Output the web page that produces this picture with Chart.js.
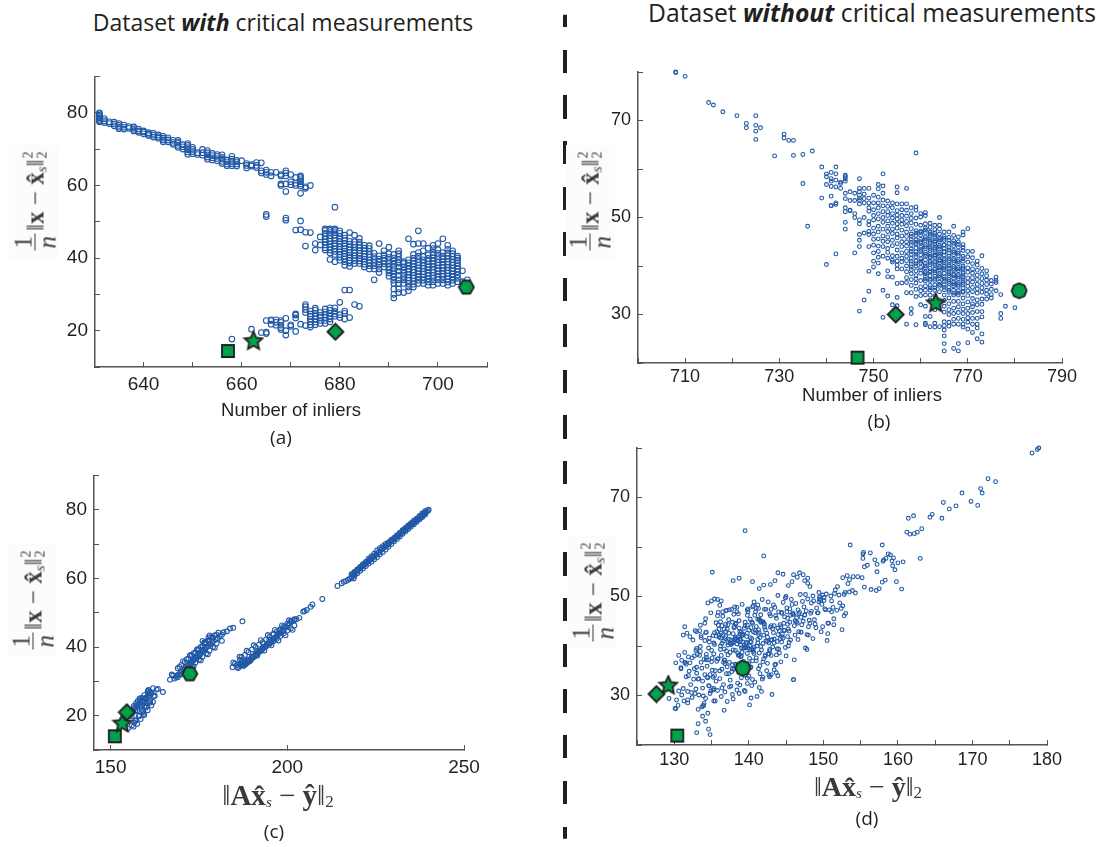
<!DOCTYPE html>
<html>
<head>
<meta charset="utf-8">
<title>Critical measurements</title>
<script src="https://cdn.jsdelivr.net/npm/chart.js@4/dist/chart.umd.min.js"></script>
<style>
  html, body { margin: 0; background: #fff; }
  #page { position: relative; width: 1104px; height: 847px; overflow: hidden; color: #231f20; }
  canvas { position: absolute; }
  .txt { position: absolute; white-space: nowrap; transform: translate(-50%, -50%); }
  .title { font: 23px "Open Sans", sans-serif; }
  .axis { font: 18.5px "Liberation Sans", sans-serif; }
  .cap { font: 19px "Open Sans", sans-serif; }
  .divider { position: absolute; left: 563px; width: 4px; top: 3.8px; height: 835px; clip-path: inset(11px 0 0 0);
    background: repeating-linear-gradient(#231f20 0 23.2px, transparent 23.2px 45.7px); }
  .shade { position: absolute; background: #fcfcfa; width: 49px; height: 113px; }
  .math { font: 25px "Liberation Serif", serif; color: #3a3a3a; display: flex; align-items: center; }
  .ylab { transform: translate(-50%, -50%) rotate(-90deg); }
  .frac { display: inline-flex; flex-direction: column; align-items: center; margin-right: 3px; line-height: 23px; }
  .frac i { border-top: 1px solid #3a3a3a; padding: 0 2px; }
  .stack { display: inline-flex; flex-direction: column; font-size: 14px; line-height: 14px; margin-left: 1px; }
  sub.s { font-size: 15px; font-style: italic; line-height: 0; position: relative; top: 6px; vertical-align: baseline; }
  sub.n { font-size: 17px; line-height: 0; position: relative; top: 6px; vertical-align: baseline; }
</style>
</head>
<body>
<div id="page">
  <div class="divider"></div>
  <div class="txt title" style="left:283px;top:22px">Dataset <b><i>with</i></b> critical measurements</div>
  <div class="txt title" style="left:872px;top:12px;font-size:24.7px">Dataset <b><i>without</i></b> critical measurements</div>

  <div class="shade" style="left:9px;top:145px"></div>
  <div class="shade" style="left:566px;top:145px"></div>
  <div class="shade" style="left:8px;top:543px"></div>
  <div class="shade" style="left:568px;top:535px"></div>

  <canvas id="chartA" style="left:0;top:53px" width="520" height="357"></canvas>
  <canvas id="chartB" style="left:580px;top:49px" width="524" height="341"></canvas>
  <canvas id="chartC" style="left:0;top:452px" width="520" height="328"></canvas>
  <canvas id="chartD" style="left:580px;top:425px" width="524" height="350"></canvas>

  <div class="txt math ylab" style="left:35px;top:201px"><span class="frac"><span>1</span><i>n</i></span>‖<b>x</b>&nbsp;−&nbsp;<b>x̂</b><sub class="s">s</sub>‖<span class="stack"><span>2</span><span>2</span></span></div>
  <div class="txt math ylab" style="left:590px;top:201px"><span class="frac"><span>1</span><i>n</i></span>‖<b>x</b>&nbsp;−&nbsp;<b>x̂</b><sub class="s">s</sub>‖<span class="stack"><span>2</span><span>2</span></span></div>
  <div class="txt math ylab" style="left:33px;top:600px"><span class="frac"><span>1</span><i>n</i></span>‖<b>x</b>&nbsp;−&nbsp;<b>x̂</b><sub class="s">s</sub>‖<span class="stack"><span>2</span><span>2</span></span></div>
  <div class="txt math ylab" style="left:593px;top:592px"><span class="frac"><span>1</span><i>n</i></span>‖<b>x</b>&nbsp;−&nbsp;<b>x̂</b><sub class="s">s</sub>‖<span class="stack"><span>2</span><span>2</span></span></div>

  <div class="txt axis" style="left:291px;top:410px">Number of inliers</div>
  <div class="txt axis" style="left:872px;top:395px">Number of inliers</div>
  <div class="txt math" style="left:278px;top:795px;font-size:29px">‖<b>Ax̂</b><sub class="s">s</sub>&nbsp;−&nbsp;<b>ŷ</b>‖<sub class="n">2</sub></div>
  <div class="txt math" style="left:868px;top:787px;font-size:28px">‖<b>Ax̂</b><sub class="s">s</sub>&nbsp;−&nbsp;<b>ŷ</b>‖<sub class="n">2</sub></div>

  <div class="txt cap" style="left:281px;top:437px">(a)</div>
  <div class="txt cap" style="left:879px;top:421px">(b)</div>
  <div class="txt cap" style="left:274px;top:831px">(c)</div>
  <div class="txt cap" style="left:867px;top:818px">(d)</div>
</div>

<script>
// panel (a): number of inliers vs error, one row of errors per inlier count
const inliersA = [631,632,633,634,635,636,637,638,639,640,641,642,643,644,645,646,647,648,649,650,
  651,652,653,654,655,656,657,658,659,660,661,662,663,664,665,666,667,668,669,670,
  671,672,673,674,675,676,677,678,679,680,681,682,683,684,685,686,687,688,689,690,
  691,692,693,694,695,696,697,698,699,700,701,702,703,704,705,706];
const errorA = [
  [77.5,77.8,78.2,78.6,79,79.3,79.7,80],[77.3,77.8,78.4],[77,77.5],[76.4,76.9,77.4],[75.6,76,76.5,77],
  [75.5,76,76.6],[75.7,76.2],[75,75.4,75.9,76.1],[74.6,75,75.5],[74.2,74.7,75],
  [73.7,74.1,74.5],[73.3,73.8,74.3],[73,73.4,73.9],[72,72.5,73,73.5],[72,72.5,73.1],
  [71.3,71.8,72.4],[70.5,71,71.6,72,72.4],[70,70.6,71.2],[68.6,69.2,69.8,70.4,71,71.5],[68.7,69.3,69.9,70.5],
  [68.5,69],[68.3,69,69.9],[67.2,67.8,68.4,69,69.6],[67,67.6,68.2,68.8],[66.8,67.4,68,68.5],
  [66,66.6,67.2,67.7,68.4],[65.4,65.9,66.5,67],[65.4,66,66.6,67.2,68,17.7],[65.3,65.9,66.5,66.9],[66.8],
  [64.8,65.5,66],[65.3,65.7,20.4],[64.9,65.5,66.3],[63.4,64,66.2,19.5],[63,63.6,64.2,51.4,52,19.2,19.6,22.8],
  [62.6,63.6,21.8,22.8,23],[63.6,21.5,22.3,23],[60,60.4,62.6,63,20.3,20.8,21.5,22.3,22.8],[58.3,60.4,62.6,63.4,64,50.4,51,18.8,20,23.4],[60.2,61,63,21.2,21.6],
  [60,60.6,62.2,47.7,19.8,23.5,24.3,24.6],[57.8,59.8,60.4,61,61.6,62.2,62.6,50.2,47.8,21.8],[59.2,59.6,47.1,43.3,21.4,25,25.8,26.6,27.2],[60,47,21,21.6,22.4,23.2,24,24.6,25.4],[42.2,44,21.6,22.4,23.2,24,24.8,25.6,26.2],
  [43.6,45.8,22,22.8,23.6,24.2,25],
  [42.2,42.8,43.6,44.4,45.2,46,46.8,47.6,48,22,22.8,23.6,24.4,25.2,26],
  [39.6,41.4,42.2,43,43.8,44.6,45.4,46.2,47,47.6,48,22.4,23.2,24,24.8,25.6,26.3],
  [39,41,41.8,42.5,43.3,44,44.8,45.5,46.3,47,47.6,48,54,24,24.6,25.3,26.3],
  [39.4,40.2,41,41.7,42.4,43.1,43.9,44.6,45.3,46,46.8,47.5,23.6,24.4,27.8],
  [38,39,39.8,40.5,41.2,41.9,42.6,43.3,44,44.8,45.5,46.3,23.2,24.8,25.4,31.2],
  [37.7,38.6,39.4,40.1,40.8,41.5,42.2,43,43.8,44.6,47,23.6,31.2],
  [38.5,39.3,40,40.7,41.4,42.1,42.9,43.7,44.5,46.3,27.2],
  [38.5,39.2,39.9,40.6,41.3,42,42.8,43.6,44.4,45.4,26.7],
  [37.5,38.3,39,39.7,40.4,41.1,41.9,42.7,43.5],
  [37,37.9,38.7,39.4,40.2,41,41.8,42.6,43.4],
  [37,37.9,38.8,39.6,40.4,41.3,34],
  [36,37,38,38.9,39.7,40.6,44],
  [37.5,38.4,39.2,40,40.9,42],
  [35,35.9,36.8,37.6,38.5,39.3,40.2,41.2,43],
  [29,30,31.5,33,33.9,34.8,35.6,36.5,37.4,38.3,39.2,40,41],
  [30.5,31.5,33,34,35.2,36.4,37.5,38.6,39.5,40.4,41.2,42],
  [30.5,33,34,34.9,35.8,36.7,37.6,38.5,39],
  [31,32,33,33.8,34.6,35.4,36.2,37,37.9,38.7,39.5,45.3],
  [32,32.8,33.6,34.4,35.2,36,36.8,37.6,38.4,39.2,40,41,43.8],
  [33,33.9,34.8,35.6,36.4,37.2,38,38.8,39.6,40.5,41.5,44,47.5],
  [33,33.9,34.7,35.5,36.3,37.1,37.9,38.7,39.5,40.4,42,44],
  [32.5,33.4,34.3,35.1,35.9,36.7,37.5,38.3,39.1,39.9,40.8,42.7],
  [32.5,33.5,34.4,35.2,36,36.8,37.6,38.4,39.2,40,40.8,41.6,42.6,43.5],
  [33,34,34.8,35.6,36.4,37.2,38,38.8,39.6,40.4,41.3,42.3,44],
  [33,34,34.9,35.7,36.5,37.3,38.1,38.9,39.7,40.5,41.5,45.3],
  [32.5,33.4,34.2,35,35.8,36.6,37.4,38.2,39,39.8,40.6,41.4,42.4,43.5],
  [33,33.9,34.8,35.6,36.4,37.2,38,38.8,39.6,40.4,41.2,42],
  [33.5,34.4,35.3,36.2,37,37.8,38.6,39.4,40,40.5],
  [33.5,36.5],[34]
];
const markerXA = [657.2,662.4,679.1,705.8];
const markerYA = [14.4,17.1,19.7,32];
const xTicksA = [640,650,660,670,680,690,700,710];
const xLabelsA = [640,660,680,700];
const yTicksA = [10,20,30,40,50,60,70,80,90];
const yLabelsA = [20,40,60,80];

// panel (b): same measure for the dataset without critical measurements
const inliersB = [708,710,715,716,718,721,723,725,726,729,731,732,733,735,736,737,739,740,741,742,
  743,744,745,746,747,748,749,750,751,752,753,754,755,756,757,758,759,760,761,762,
  763,764,765,766,767,768,769,770,771,772,773,774,775,776,777,778,780,
  758,759,760,761,762,763,764,765,766,767,768,769];
const errorB = [
  [79.9,80],[79.1],[73.7],[73.2],[71.8],[71],[69.4,68.5],[71,69,67.8,66.1],[68.5],[62.7],
  [67.2,66.4],[65.9],[65.9,62.8],[63,57],[48.2],[63.7],[60.4,54],[59,58.4,56.8,40.3],[59.3,58,57.5,56.4,54.4,52.5,52.4],[60.4,59,57.7,56.3,53,52.7,42.5],
  [57.3,57,56],[58.7,58.4,58,57.5,55,53.9,52,51.2,49,47.6],[55.3,53.5,51.5,51.4],[55,53.5,50.8,50,42.7],[58,56,55.3,54.6,54,53.5,52.8,49.5,48.7,46.5,45.3,44,30.7],[56,54.8,53.9,53,50,46.8,33],[56,54,53,52,51.3,49.2,48.5,47.1,46.5,44,38.9,34.8],
  [54.6,53,51.6,50.4,49.5,47.8,46.6,45.5,44.3,42.7,41,39.8],
  [56.8,55.9,54.2,53,52,50.8,49.7,48.2,47,45.6,44.1,43,41.8,40.6,38.4],
  [59,56.5,55,53.6,52.4,51.2,50,49,47.6,46.2,45.1,44,42,35,29.4],
  [53.4,52.3,51.2,50.4,49.3,48.2,47.1,46,45,43.6,42.8,41.6,39,37.8,33.8],
  [53,52,50.8,49.9,48.8,47.6,46.7,45.3,44.2,42.1,41.2,40.8,37.7,32],
  [56.3,55.1,52.8,51.4,50.5,49.7,48.7,47.8,46.6,45.8,44.6,43.3,42,41,40.2,39.4,36.4,33.5,31.8],
  [52.8,51.6,50.4,49.5,48.6,47.4,46.2,45,44,42.7,41.6,40.9,39.4,36.5],
  [56,52.8,51.5,50.3,49.2,48.3,47,46.1,45,44.1,43,42,41.1,40,38.8,37.6,36.6,34.5,28],
  [52,50.8,49.8,48.9,47.7,46.6,45.5,44.4,43.5,42.4,41.6,40.4,39.3,38.4,37.2,36,34.5,31.2,30.2],
  [63.3,52.2,51.5,49.9,48.6,47.3,46.3,45.4,44.5,43.7,42.9,41.9,41,40,39,38,36.5,35.2,33.7,27.9],
  [50.8,50.1,48.4,47.2,46.4,45.5,44.7,43.9,43,42.3,41.5,40.6,39.7,38.5,35.7,34.9,33.9,32],
  [51,50.4,48.7,47.8,46.9,46,45.2,44.4,43.6,42.8,42,41.3,40.5,39.6,38.8,37.9,36.9,35.9,35,34,31.7,29.6,28.2,27.9],
  [48.8,48,47,46.2,45.5,44.7,44,43.2,42.4,41.7,41,40.3,39.5,38.7,38,37,36,35,34,33,29.6,27.5],
  [48.4,47.5,46.8,46,45.2,44.5,43.8,43,42.3,41.6,40.9,40.1,39.4,38.6,37.9,37,36.1,35,33.8,32.5,31,28.2,27.4],
  [50,48.4,47.6,46.6,45.8,45,44.2,43.5,42.8,42,41.3,40.6,39.9,39.2,38.4,37.6,36.7,35.8,34.7,33,27.5],
  [47,46.1,45.3,44.4,43.6,42.9,42.2,41.5,40.7,40,39.2,38.5,37.7,36.9,36.1,35.1,34,32.9,31.7,30.5,28.5,27.7,26.8,25.6,24,22.5],
  [47,45.9,44.7,43.8,42.7,42,41.1,40.3,39.5,38.8,38,37.2,36.4,35.6,34.6,33.4,32.2,31,30,28.4,27.6],
  [48.2,46.3,45.2,44.2,43.2,42.3,41.5,40.7,39.9,39.1,38.3,37.5,36.7,35.9,35,34,32.7,31.3,30.2,29,28,23],
  [46,45,43.9,43,42.1,41.3,40.5,39.7,39,38.2,37.4,36.6,35.8,34.9,34,32.7,31.6,30.4,29.2,28,24,22.5],
  [47,46.4,44.4,43.2,42,41,40,39.3,38.5,37.7,37,36.2,35.4,34.6,33.4,32.2,31.1,30.2,29,28,27.4],
  [47.7,43,41.9,40.8,39.6,38.7,37.5,36.6,35.8,34.9,33.9,32.6,31.3,30.2,29.3,28.4,27,24.2],
  [43,41.7,40.5,39.4,38.5,37.6,36.7,35.6,34.7,33.3,32.2,31.6,30.4,29.2,28,26.3],
  [41,40.2,39.1,38.1,37.2,36.2,35.3,34.4,33,32,30.6,29.2,28,27.2,25],
  [42.1,39.5,38.4,37.4,36.4,35.5,34.6,33.2,32.1,30.6,29.5,26,24.3],
  [39,38,37.1,36.2,35,34.2,33.2],
  [37,36.3,35.2,34.1,33.4],
  [37.7,37,36.6,34.9],[34.1,30.2,29.2],[31.7],[31.4],
  [46.1,44.9,43,41,39.8],[46.8,44.9,42.4,40.5,37.4],[46.9,45,43.4,41,39.2,37],[47.4,45.6,44,42.4,40,38.4,37.3],
  [46.6,45.1,43.6,42,40.7,39,37.3,35.5],[46.4,44.9,43.4,42,40.5,39,37.4,35.5],[45.4,43.9,42.4,41,39.6,38,36.2],[45.7,44.3,43,41.1,39.6,37.3,35.6],
  [45.3,43.3,41.5,40,38.4,36.8,35],[44.7,42.8,41.1,39.5,38,36.3,34.4],[44.5,42.6,40.9,39.4,37.8,36.2,34.4],[43.8,41.5,39.6,38.1,36.6,34.8]
];
const markerXB = [746.6,763.2,754.7,780.9];
const markerYB = [21.1,32.3,30,34.9];
const xTicksB = [700,710,720,730,740,750,760,770,780,790];
const xLabelsB = [710,730,750,770,790];
const yTicksB = [20,30,40,50,60,70,80];
const yLabelsB = [30,50,70];

// panel (c): residual norm vs error
const residualC = [
  240,239.8,239.5,239.2,238.9,238.6,238.2,237.9,237.5,237.2,
  236.8,236.5,236.1,235.8,235.4,235,234.7,234.3,234,233.6,
  233.2,232.9,232.5,232.1,231.8,231.4,231,230.6,230.3,229.9,
  229.5,229.1,228.8,228.4,228,227.6,227.2,226.8,226.4,226,
  225.6,225.2,224.8,224.4,224,223.6,223.1,222.7,222.3,221.9,
  221.4,221,220.6,220.1,219.7,219.3,218.9,218.5,218.8,218.2,
  217.7,217.2,216.6,216,215.4,214.2,209.9,207.1,206.6,205.5,
  204.5,204.9,203.4,202.6,201.9,201.2,200.6,200.2,199.7,199.3,
  199,198.5,198.1,197.7,197.3,197,196.6,196.3,195.9,195.5,
  195.1,194.7,194.3,194,193.6,193.2,192.8,192.5,192.1,191.7,
  191.3,191,190.6,190.2,189.9,189.5,189.2,188.8,188.4,188.1,
  187.7,187.3,187,186.5,186.1,185.6,185.2,184.7,184.5,197.8,
  196.1,194.9,193.3,191.6,190.1,188.7,187.4,186.6,185.9,187.3,
  184.7,183.8,187.3,182.9,182,181.5,180.9,180.3,179.7,179.2,
  178.8,178.3,178,177.6,177.2,176.9,176.5,176.2,175.8,175.4,
  175.1,174.7,174.4,174,173.7,173.3,173,172.6,172.2,171.8,
  171.4,171,170.6,170.1,169.7,169.3,168.9,168.5,168.1,167.7,
  167.3,166.8,175.9,175.2,174.6,173.5,172.6,177.7,176.6,179.4,
  164.8,163.4,162,160.7,161.6,160.9,160.2,159.6,159,158.5,
  158,157.5,157,156.5,156,155.5,155,160.3,159.6,159.3,
  158.8,158.2,157.7,157.2,156.6,156.1,155.6,154.9,161.2,160.6
];
const errorC = [
  80,79.8,79.5,79.3,79,78.7,78.4,78.1,77.8,77.5,
  77.2,76.9,76.6,76.3,76,75.7,75.4,75.1,74.8,74.5,
  74.1,73.8,73.5,73.2,72.9,72.5,72.2,71.9,71.6,71.2,
  70.9,70.6,70.2,69.9,69.5,69.2,68.9,68.7,68.3,67.7,
  67.4,67,66.7,66.3,66,65.6,65.2,64.9,64.5,64.1,
  63.7,63.4,63,62.6,62.2,61.8,61.5,61,60,60.5,
  59.9,59.6,59.2,59,58.6,57.8,54,52.4,51.7,50.8,
  50.3,50.5,48.5,48.1,47.8,47.4,46.9,46.3,45.8,45.7,
  44.9,44.6,44.2,43.9,43.6,43.1,42.8,42.4,42.2,41.7,
  41.4,41,40.7,40.3,40,39.7,39.3,38.9,38.6,38.3,
  37.9,37.5,37.2,36.9,36.5,36.2,35.8,35.6,35.2,34.9,
  34.6,35.1,35.5,35,33.9,34.6,35.2,35.5,34.1,44.8,
  43.7,42.1,41,39,37.2,36.2,35,36.3,34.2,36.1,
  45.6,45.4,47.5,44.6,44.3,43.6,43.2,42.6,42.2,41.8,
  41.5,41,40.7,40.3,40,39.6,39.3,38.9,38.6,38.2,
  37.9,37.5,37.2,36.8,36.5,36.1,35.7,35.4,35,34.6,
  34.2,33.8,33.3,32.9,32.4,32,31.8,31.3,30.8,31.7,
  32,30.5,39.2,37.5,37,36.2,35,42.8,41.3,43.4,
  26.9,27.8,28,27.5,26.5,25.9,25.3,25,24.4,23.9,
  23.4,22.9,22.4,22,21.3,20.7,20.2,23.6,22.6,20.5,
  25.2,25,24.3,23.6,22.8,21.4,20.1,16.3,26.9,27.2
];
// extra rings that thicken the bands of panel (c)
const residualCBand = [
  239,238.2,237.4,236.6,235.8,235,234.2,233.4,232.6,231.8,
  231,230.2,229.4,228.6,227.8,227,226.2,225.4,224.6,223.8,
  223,222.2,221.4,220.6,219.8,219,218.2,239,238.2,237.4,
  236.6,235.8,235,234.2,233.4,232.6,231.8,231,230.2,229.4,
  228.6,227.8,227,226.2,225.4,224.6,223.8,223,222.2,221.4,
  220.6,219.8,219,218.2,187,188,189,190,191,192,
  193,194,195,196,197,198,199,200,201,202,
  187,188,189,190,191,192,193,194,195,196,
  197,198,199,200,201,202,169,170,171,172,
  173,174,175,176,177,178,179,180,169,170,
  171,172,173,174,175,176,177,178,179,180,
  171.5,172.5,173.5,174.5,175.5,176.5,177.5,156,157,158,
  159,160,161,156,157,158,159,160,161,157.5,
  158.5,159.5,160.5,157.2,158.2,159.2,160.2,161.2,162.2,156.7,
  186.5,188.5,190.5,192.5,194.5,196.5,198.5,200.5,187.5,189.5,
  191.5,193.5,195.5,197.5,199.5,201.5,170.5,172.5,174.5,176.5,
  178.5,180.5,171.5,173.5,175.5,177.5,179.5,181.5,169.5,176,
  178,156.5,157.5,158.5,159.5,160.5,162.5,161.5,160.5,159.5,
  158.5,157.5,156.5,163,162
];
const errorCBand = [
  79.6,78.9,78.2,77.4,76.8,76.1,75.4,74.7,74,73.2,
  72.5,71.8,71.2,70.5,70,69.4,68.8,68.1,67.2,66.4,
  65.7,64.8,64.1,63.3,62.6,61.9,61.2,78.6,77.9,77.2,
  76.5,75.8,75.1,74.4,73.7,73,72.2,71.5,70.8,70,
  69.2,68.4,67.7,67,66.2,65.6,64.9,64.3,63.6,62.9,
  62.2,61.5,60.8,60.1,37.1,37.7,38.5,39.3,40,40.7,
  41.4,42.2,43,43.8,44.5,45.2,46,46.8,47.5,48.1,
  35,35.7,36.3,37.2,37.9,38.7,39.5,40.2,40.9,41.6,
  42.4,43.2,44,44.8,45.5,46.3,33.8,34.8,35.6,36.7,
  37.6,38.5,39.4,40.3,41.2,42,42.8,43.6,31.2,32,
  32.9,33.7,34.5,35.5,36.3,37.2,38.1,39,40,41,
  36.4,37.5,38.2,39.1,40,41,41.9,19.8,21.2,22.6,
  23.9,25.2,26.6,17.2,18.5,19.8,21,22.4,23.7,21.6,
  23,24.2,25.6,18.7,20,21.4,22.8,24.2,25.6,18,
  37.2,38.9,40.5,42,43.5,45,46.3,47.8,34.5,36,
  37.5,39,40.5,41.9,43.4,45,35.9,37.6,39.4,41.3,
  42.9,44.2,32.8,34.4,36.1,37.9,39.8,41.8,34.2,41.8,
  43.4,21.5,23,24.6,26,27,25.8,23,21.6,20.2,
  19,17.6,16.8,27.6,24
];
const markerXC = [151.2,153.3,154.6,172.4];
const markerYC = [14,17.7,21,32.2];
const xTicksC = [150,200,250];
const xLabelsC = [150,200,250];
const yTicksC = [10,20,30,40,50,60,70,80,90];
const yLabelsC = [20,40,60,80];

// panel (d): residual norm vs error without critical measurements
const residualD = [
  178,178.7,178.9,172.1,173.1,171.1,171.3,168.6,169.8,170.7,
  167.8,166.1,166.9,164.6,164.3,165.9,162.1,161.4,161.2,161.6,
  162.2,162.6,163.2,163,139.5,153.6,157.9,142,135.1,155.3,
  155.4,155.3,156.3,156.9,155.9,155.5,157.2,158,158.1,158.4,
  158.7,159,159.4,159.2,160,160.7,159.3,159.6,157.2,157.9,
  158.3,159.8,160.5,157.5,157.1,156.4,155.5,155.2,154.6,154,
  153.2,153.5,152.6,153.3,153.9,154.3,152.8,152.1,151.5,151,
  150.4,150.1,149.5,149.9,149.4,148.7,148.2,147.9,147.5,146.5,
  146.8,147.3,147.9,146,145.8,145.3,144.6,143.9,143.5,142.9,
  142,141.4,140.5,138.7,137.9,135.4,135.8,136.3,135,134.5,
  152.5,150.5,150.6,149.7,148.6,148,147.6,146.1,146,143.7,
  143,145.3,144.2,144.8,141.9,142.7,141,141.5,140.3,139.8,
  151.3,151.8,152.6,153,151.1,150.2,149.3,148.4,147.5,146.7,
  145.9,145.1,144.4,143.6,142.8,142.1,141.3,140.5,139.8,139.1,
  138.4,137.7,137,136.5,135.8,134.9,134.2,133.5,132.8,131.4,
  131.2,131.7,133,132.1,132.5,133.6,134.3,135.2,136,136.9,
  137.8,138.7,139.5,140.4,141.2,142,143,143.9,144.7,145.5,
  146.4,147.3,148.2,149,149.9,150.7,151.4,148.8,147,145.2,
  143.4,141.6,139.9,138.2,136.4,134.7,133,131.4,130.6,130.2,
  131,131.9,132.7,133.5,134.3,135,135.9,136.7,137.4,138.2,
  139,139.8,140.6,141.4,142.2,143,143.8,144.6,145.4,146.2,
  147,147.8,146.6,145.6,144.4,143.3,142.3,141.3,140.2,139.2,
  138.2,137.2,136.2,135.3,134.3,133.4,132.4,131.6,130.9,132,
  133,134.1,135.1,136.1,137.1,138,139,140,141,142,
  143,144,145,143.5,142.5,141.5,140.5,139.5,138.5,137.5,
  136.6,135.6,134.6,133.8,132.9,131.8,133.3,134.4,135.4,136.4,
  137.4,138.4,139.4,140.4,141.4,142.4,143.4,144.3,142.8,141.8,
  140.8,139.8,138.8,137.8,136.8,135.8,134.8,133.9,134.7,135.5,
  136.3,137.1,137.9,138.7,139.5,140.3,141.1,141.9,142.7,141.7,
  140.7,139.7,138.9,137.9,137,136.2,135.4,136,136.8,137.6,
  138.3,139.1,139.8,140.6,141.3,142.1,140.9,140.1,139.3,138.5,
  137.7,136.9,136.5,137.3,138.1,138.9,139.6,140.4,141.2,139,
  138.2,137.5,138.6,139.4,140.2,140,138.8,138,137.2,139.2,
  134,133.7,134.2,133.2,133,134.6,134.8,133.9,135.3,136.7,
  129.3,130.2,130.5,130.1,131.3,131,130.6,130.3,129.6,131.8,
  133.8,133.2,134.5,146,140.1,143.1,143.9,151.4,152.4,152.8
];
const errorD = [
  79,79.7,80,73.8,73.2,71.8,70.9,70.9,69.2,68.4,
  68.3,69,67.7,66.6,66,65.8,66.3,65.8,63,62.6,
  62.7,63,63.7,57.7,63.3,60.4,60.4,58.2,54.9,58.6,
  58.9,57.7,58.8,57.4,56.3,56,56.5,57.1,57.4,57.7,
  58.6,58.4,57.8,57.2,56.8,57,56.2,55.4,55,52.9,
  53.3,53,51.5,51.6,51.2,51.4,51.9,53.8,54,54,
  54.2,53.4,53.8,52.6,51.2,50.7,50.4,50.3,50.6,50.1,
  50.5,49.2,49.5,50.3,48.9,49.1,52,52.7,53.2,53.9,
  54.8,54.4,53.7,54.4,53,52.2,54.5,54.8,53.2,52.4,
  52.3,51.6,53,53.7,53.2,49.5,49.4,49.1,49.1,48.7,
  43.3,41.1,42.5,42.9,41.5,42.2,39.6,37.2,33.2,34.6,
  34.2,40,41.5,43.1,36.8,38.4,37.6,36,35.7,33.5,
  47.8,47.2,48.1,46.6,46.9,47.5,46.7,47,46.3,46.5,
  46.4,46.9,46.8,46.1,46.5,47.4,47.6,47.9,47.3,48.4,
  47.8,47.4,47.2,46.9,46.1,46.7,45.5,44.2,43.1,43.9,
  42.2,42.6,42.9,41.9,41.2,41.7,42.8,42.1,43.4,44.4,
  44.8,43.6,44.1,44.8,45.4,44.6,44.1,43.6,44.6,44.8,
  45.7,45,44.6,43.7,43.9,44.6,44.3,45.3,42.8,41.9,
  40.7,39.9,39.6,39.1,40.5,40.8,39.5,38.7,38.1,36.6,
  37.1,37.8,38,38.9,37.7,36.8,37.4,37.2,36.7,36.3,
  38,38.5,38.9,38.6,38.2,38.1,40.9,41.6,40.7,42.2,
  42.8,39.3,41.3,41.2,41.9,42.7,41,42.3,41.7,42.2,
  41.8,40.2,39.3,38.4,38.3,38.1,37.6,36.3,35.4,34.9,
  34.5,34.2,35.1,35,35.8,35.3,36.7,36.4,37,37.4,
  41.2,39.4,38,36.2,36.5,34.4,33.2,34.1,32.5,33.1,
  32.2,32.9,32,31.5,31.3,30.8,33.4,33.7,34,31.5,
  31.7,31.1,31,32,31.6,35,35.2,36.8,33.8,33.3,
  32.7,32.4,32.1,30.2,30.7,31,30.4,29.9,31.9,28.9,
  29.8,28.8,29.3,30.4,30.8,29.5,29.8,33.7,34.1,30.8,
  39.8,40.7,40.2,40.6,39,40,40.3,41.8,41.5,41.1,
  41.5,42.1,42.6,42.9,43.3,43.8,43.2,40,39.5,41.2,
  40.5,41.9,42.3,42.6,41.4,41.1,39.7,39.2,40.6,42.8,
  41.4,40.6,41.9,39.7,40.9,43.2,42.4,43.7,44.3,40.8,
  28.4,27.7,24.8,24.3,22.5,23.2,22.1,28,28.9,27,
  29.4,27.3,28,27.4,28.9,30.1,30.9,29.1,31.8,28.5,
  25.8,27.2,26.4,33.2,28.1,30.2,34,45.5,47.6,46.1
];
// second reading of the crowded middle of panel (d)
const residualD2 = [
  138.3,141.7,136.9,143.2,139.6,145.1,137.4,140.8,142.5,135.7,
  133.4,147.2,139.1,144.4,136.2,141.2,148.3,134.6,142.9,138.8,
  146.1,135.2,140.3,137.8,143.9,132.7,149.4,139.9,136.6,144.8,
  141.5,134.1,147.8,138.1,142.2,135.9,145.7,131.9,140.6,150.3,
  137.1,143.4,139.4,133.1,146.6,141.9,136.4,148.9,134.9,142.6,
  138.6,144.1,135.4,140.1,151.1,137.6,132.3,143.7,139.8,145.4,
  136.7,141.4,147.5,133.8,138.4,149.8,142.1,135.1,140.9,144.6,
  137.3,131.2,146.9,139.2,143.1,134.4,141.1,152.2,136.1,138.9,
  145.9,132.9,140.4,148.1,137.9,142.8,135.6,144.3,139.3,133.6,
  150.6,141.6,136.8,146.3,138.2,143.6,134.2,140.7,147.1,137.2,
  132.1,142.3,139.7,145.2,135.3,149.1,141.3,136.3,144.9,138.7,
  133.2,140.2,146.7,137.7,143.3,131.6,139,148.6,135.8,142.4,
  144.2,136.5,141.8,134.7,138.5,151.6,140.5,133.9,145.6,137.5,
  143.8,139.5,147.4,135.5,141,132.4,146.2,138,142.7,136,
  149.2,134.3,140,144.7,137,143,131.4,139.3,152.9,135,
  141.5,147.9,133.3,138.6,145,136.9,142,150.1,134.8,140.6,
  137.4,144,132.6,139.8,146.5,135.2,143.5,141.2,148.4,136.4,
  138.1,130.9,142.5,134,145.3,140.3,137.8,147,133,139.1,
  144.5,136.6,141.7,149.6,135.6,138.4,143.2,131.8,140.8,146,
  137.2,142.2,134.5,139.6,148,136.2,144.1,141,133.5,145.8,
  138.8,150.8,135.9,140.1,143.9,132.2,137.6,147.7,139.4,142.8,
  134.1,146.4,136.8,141.4,138.3,144.9,131.5,140.5,135.3,143.4,
  153.5,137.3,149.5,133.7,139.9,142.6,145.5,136.3,141.9,134.6,
  147.6,138.7,143.7,132.8,140.2,136.1,144.4,139,151.9,135.7,
  141.6,146.8,133.6,137.9,142.9,138.5,145.2,134.2,140.7,136.7
];
const errorD2 = [
  44.6,39.2,47.1,43.5,36.4,47.7,41.3,46.2,41.8,36.9,
  43.1,49,38.7,40.8,44.9,48.3,46.6,39.6,46.1,42.9,
  44.1,33.7,43.7,36.2,50.2,35.4,50.8,46.9,41,45.9,
  41.7,44.6,42.3,47.9,37.9,46.8,49.4,34,39.4,47.3,
  43.4,41.4,40.2,38.3,47.3,44.9,35.3,44.4,30.9,48.9,
  46.5,38.6,42.7,37.5,49.1,31.9,30.6,45.6,44.2,43,
  39.4,42.7,46.2,32.9,40.4,48.4,44.4,37.6,46.9,48.8,
  45.3,31.4,50.4,42.4,41.2,35.9,40,48.7,33.4,37.8,
  46.7,39.1,41.5,45.2,42.5,39,44.7,43.9,36.9,42.1,
  44.6,46.3,37.1,48.6,44.4,36.3,29.4,38.5,44.3,40.7,
  36.6,47.4,41.9,45.6,40.6,47.7,35.4,42.6,39.7,38.2,
  33.3,45.4,42.9,34.8,48.3,33.8,39.6,50.1,37.4,42.6,
  44.3,46,49.4,41.6,41,51.3,37,27.9,46.2,38.7,
  39.4,44.8,47.9,35,43.9,29.6,45.1,46.4,40.6,42.2,
  46.7,37.2,33.9,43.2,34.4,47.4,36.6,36.1,50.8,39.1,
  45.2,49.5,30.1,38.1,50,42.9,42.2,49.8,34.2,48.1,
  47.3,46.9,33.3,46.2,44.6,31.1,47.8,41.3,48.7,44.1,
  43.9,35.6,40.9,37.3,43.4,40.8,35.4,45.8,35.7,35.2,
  42.4,36.7,44.9,49.2,42,46.9,39.8,29.1,42.7,46.4,
  38.2,43.3,33.6,40.5,43.9,41.6,43.1,47.7,39.9,48.4,
  41.4,47.3,44.2,39.3,42.3,32.2,40.3,47.1,43.6,39.3,
  41.1,44.9,36.4,45.4,36,49.7,36.7,44.6,31.4,44.1,
  50.9,34.4,49.9,35.5,47.5,38.4,47.5,38.1,40.5,37.2,
  50.4,45.1,38.2,30.4,35.6,48.2,46.6,33.6,52,42.9,
  44.8,46.8,36.7,39.2,43.8,38.6,44.4,42.7,48.9,43.4
];
const markerXD = [130.4,129.2,127.6,139.2];
const markerYD = [21.9,32,30.3,35.5];
const xTicksD = [125,130,135,140,145,150,155,160,165,170,175,180];
const xLabelsD = [130,140,150,160,170,180];
const yTicksD = [20,30,40,50,60,70,80];
const yLabelsD = [30,50,70];

const BLUE = '#2259a6';
const GREEN = '#00a14b';
const DARK = '#231f20';
const AXIS = '#555555';

// green markers are drawn on small canvases, chart.js takes them as pointStyle
function polygon(sides, size, turn) {
  const c = document.createElement('canvas');
  c.width = c.height = size;
  const g = c.getContext('2d');
  const r = size / 2 - 1.5;
  g.beginPath();
  for (let i = 0; i < sides; i++) {
    const a = turn + i * 2 * Math.PI / sides;
    g.lineTo(size / 2 + r * Math.cos(a), size / 2 + r * Math.sin(a));
  }
  g.closePath();
  g.fillStyle = GREEN;
  g.fill();
  g.lineWidth = 1.8;
  g.strokeStyle = DARK;
  g.stroke();
  return c;
}

function star(size) {
  const c = document.createElement('canvas');
  c.width = c.height = size;
  const g = c.getContext('2d');
  const r = size / 2 - 1.5;
  g.beginPath();
  for (let i = 0; i < 10; i++) {
    const a = -Math.PI / 2 + i * Math.PI / 5;
    const d = i % 2 ? r * 0.48 : r;
    g.lineTo(size / 2 + d * Math.cos(a), size / 2 + d * Math.sin(a));
  }
  g.closePath();
  g.fillStyle = GREEN;
  g.fill();
  g.lineWidth = 1.8;
  g.strokeStyle = DARK;
  g.stroke();
  return c;
}

function markerStyles(hexSides) {
  return [
    polygon(4, 20, Math.PI / 4),
    star(22),
    polygon(4, 19, 0),
    polygon(hexSides, 18, 0),
  ];
}

function makePanel(id, cfg) {
  new Chart(document.getElementById(id), {
    type: 'scatter',
    data: {
      datasets: [
        { data: cfg.markerX.map((x, i) => ({ x, y: cfg.markerY[i] })), pointStyle: markerStyles(cfg.hexSides), order: 0, clip: false },
        { data: cfg.points, pointStyle: 'circle', pointRadius: cfg.radius, borderColor: BLUE, borderWidth: 1.1,
          backgroundColor: 'transparent', order: 1, clip: false },
      ],
    },
    options: {
      responsive: false,
      animation: false,
      layout: { padding: { top: 23, right: cfg.right, left: 0, bottom: 0 } },
      plugins: { legend: { display: false }, tooltip: { enabled: false } },
      scales: {
        x: axis(cfg.xRange, cfg.xTicks, cfg.xLabels, s => { s.height = cfg.bottom; }, cfg.fontX, cfg.padX),
        y: axis(cfg.yRange, cfg.yTicks, cfg.yLabels, s => { s.width = cfg.left; }, cfg.fontY, 12),
      },
    },
  });
}

function axis(range, ticks, labels, afterFit, size, pad) {
  return {
    min: range[0],
    max: range[1],
    afterBuildTicks: s => { s.ticks = ticks.map(value => ({ value })); },
    afterFit,
    border: { color: AXIS, width: 1.5 },
    grid: { drawOnChartArea: false, drawTicks: true, tickLength: -5, color: AXIS, lineWidth: 1 },
    ticks: {
      autoSkip: false, maxRotation: 0, minRotation: 0, padding: pad, color: DARK,
      font: { family: '"Liberation Sans", sans-serif', size },
      callback: v => labels.includes(v) ? String(v) : '',
    },
  };
}

function columns(xs, rows) {
  return xs.flatMap((x, i) => rows[i].map(y => ({ x, y })));
}

function pairs(xs, ys) {
  return xs.map((x, i) => ({ x, y: ys[i] }));
}

makePanel('chartA', { points: columns(inliersA, errorA), markerX: markerXA, markerY: markerYA, radius: 2.8, hexSides: 6,
  xRange: [630.1, 710], yRange: [10, 90], xTicks: xTicksA, xLabels: xLabelsA, yTicks: yTicksA, yLabels: yLabelsA,
  left: 95, right: 33, bottom: 43, padX: 11, fontX: 19, fontY: 19 });
makePanel('chartB', { points: columns(inliersB, errorB), markerX: markerXB, markerY: markerYB, radius: 1.9, hexSides: 8,
  xRange: [700, 790], yRange: [20, 80], xTicks: xTicksB, xLabels: xLabelsB, yTicks: yTicksB, yLabels: yLabelsB,
  left: 58, right: 42, bottom: 27, padX: 8, fontX: 18, fontY: 18 });
makePanel('chartC', { points: pairs(residualC.concat(residualCBand), errorC.concat(errorCBand)), markerX: markerXC, markerY: markerYC, radius: 2.4, hexSides: 6,
  xRange: [145.3, 250], yRange: [10, 90], xTicks: xTicksC, xLabels: xLabelsC, yTicks: yTicksC, yLabels: yLabelsC,
  left: 94, right: 56, bottom: 30, padX: 11, fontX: 19, fontY: 19 });
makePanel('chartD', { points: pairs(residualD.concat(residualD2), errorD.concat(errorD2)), markerX: markerXD, markerY: markerYD, radius: 1.9, hexSides: 8,
  xRange: [125, 180], yRange: [20, 80], xTicks: xTicksD, xLabels: xLabelsD, yTicks: yTicksD, yLabels: yLabelsD,
  left: 57, right: 57, bottom: 30, padX: 9, fontX: 18, fontY: 18 });
</script>
</body>
</html>
